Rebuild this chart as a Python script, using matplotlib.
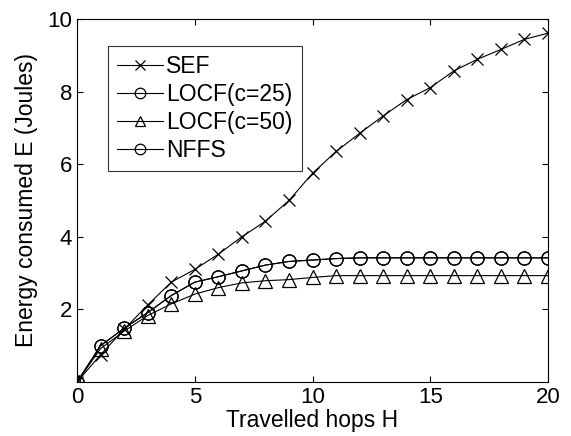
import matplotlib
matplotlib.use("Agg")
import matplotlib.pyplot as plt

plt.rcParams['font.family'] = ['Liberation Sans', 'DejaVu Sans']

hops = list(range(0, 21))
sef = [0, 0.75, 1.45, 2.12, 2.75, 3.1, 3.52, 4.0, 4.43, 5.0, 5.75, 6.35, 6.85,
       7.33, 7.78, 8.11, 8.57, 8.89, 9.16, 9.44, 9.61]
locf25 = [0, 1.0, 1.48, 1.91, 2.38, 2.75, 2.9, 3.06, 3.22, 3.32, 3.36, 3.4, 3.42,
          3.42, 3.42, 3.42, 3.42, 3.42, 3.42, 3.42, 3.42]
locf50 = [0, 0.92, 1.4, 1.83, 2.15, 2.42, 2.6, 2.73, 2.79, 2.82, 2.88, 2.93, 2.93,
          2.93, 2.93, 2.93, 2.93, 2.93, 2.93, 2.93, 2.93]
nffs = [0, 1.0, 1.48, 1.91, 2.38, 2.75, 2.9, 3.06, 3.22, 3.32, 3.36, 3.4, 3.42,
        3.42, 3.42, 3.42, 3.42, 3.42, 3.42, 3.42, 3.42]
labels = ['SEF', 'LOCF(c=25)', 'LOCF(c=50)', 'NFFS']

fig = plt.figure(figsize=(5.71, 4.36), dpi=100)
ax = fig.add_axes([0.1349, 0.1239, 0.8248, 0.8325])

lw = 0.8
ax.plot(hops, sef, color='black', lw=lw, marker='x', ms=9, mew=0.9, label=labels[0])
ax.plot(hops, locf25, color='black', lw=lw, marker='o', ms=9.5, mfc='none', mew=0.9, label=labels[1])
ax.plot(hops, locf50, color='black', lw=lw, marker='^', ms=9.5, mfc='none', mew=0.9, label=labels[2])
ax.plot(hops, nffs, color='black', lw=lw, marker='o', ms=9.5, mfc='none', mew=0.9, label=labels[3])

ax.set_xlim(0, 20)
ax.set_ylim(0, 10)
ax.set_xticks([0, 5, 10, 15, 20])
ax.set_yticks([2, 4, 6, 8, 10])
ax.tick_params(direction='in', top=True, right=True, length=4, width=0.8, labelsize=16)
for s in ax.spines.values():
    s.set_linewidth(0.8)
ax.set_xlabel('Travelled hops H', fontsize=16.5, labelpad=1)
ax.set_ylabel('Energy consumed E (Joules)', fontsize=16.5, labelpad=7)

leg = ax.legend(loc='upper left', bbox_to_anchor=(0.065, 0.926), borderaxespad=0,
                fontsize=16.5, frameon=True, fancybox=False, edgecolor='black',
                handlelength=2.0, handletextpad=0.15, labelspacing=0.22,
                borderpad=0.4, markerscale=0.8)
leg.get_frame().set_linewidth(0.8)

fig.savefig('out.png', dpi=100)
